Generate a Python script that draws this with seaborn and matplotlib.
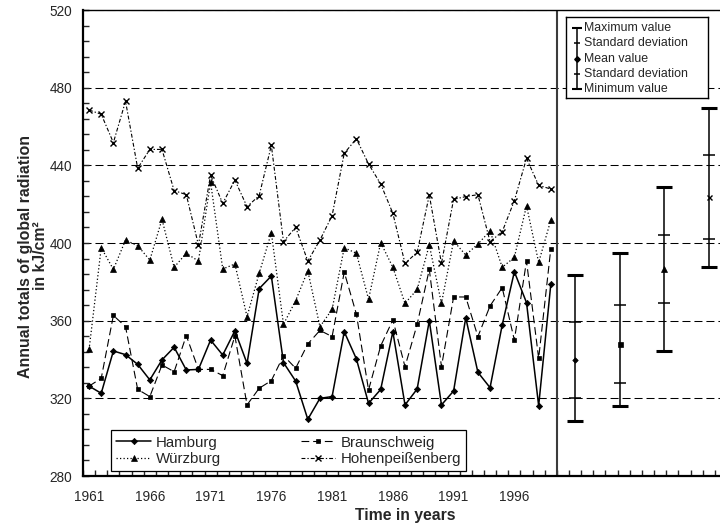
import numpy as np
import pandas as pd
import matplotlib
matplotlib.use("Agg")
import matplotlib.pyplot as plt
from matplotlib.ticker import MultipleLocator
import seaborn as sns

# Annual totals of global radiation (kJ/cm²), 1961-1999
years = list(range(1961, 2000))
hamburg = [326.3, 322.6, 344.4, 342.5, 337.5, 329.5, 339.8, 346.3, 334.6, 334.9,
           350.0, 342.3, 354.8, 338.0, 376.5, 383.0, 338.4, 328.9, 309.2, 320.0,
           320.9, 354.3, 340.3, 317.4, 324.6, 354.3, 316.6, 324.8, 360.0, 316.6,
           323.8, 361.5, 333.4, 325.5, 357.8, 385.2, 369.3, 316.2, 378.7]
braunschweig = [326.3, 330.3, 362.7, 356.9, 324.6, 320.9, 337.2, 333.7, 352.3, 334.9,
                334.9, 331.7, 352.1, 316.6, 325.2, 329.1, 342.0, 335.5, 348.0, 355.0,
                351.8, 385.0, 363.4, 324.3, 347.0, 360.4, 336.3, 358.1, 386.4, 336.3,
                372.2, 372.2, 351.8, 367.6, 377.0, 350.0, 390.7, 340.6, 397.1]
wurzburg = [345.2, 397.6, 386.4, 401.5, 398.6, 391.2, 412.2, 387.5, 394.7, 390.7,
            431.3, 386.6, 389.2, 362.1, 384.4, 405.3, 358.1, 370.3, 385.7, 356.9,
            365.8, 397.6, 394.7, 371.0, 400.2, 387.5, 368.9, 376.1, 399.0, 368.9,
            401.0, 393.8, 399.5, 406.2, 387.5, 392.6, 419.2, 390.0, 411.8]
hohenpeissenberg = [468.5, 466.3, 451.7, 473.0, 438.5, 448.2, 448.2, 427.0, 424.9, 399.0,
                    435.0, 420.4, 432.4, 418.7, 424.4, 450.3, 400.7, 408.1, 390.7, 401.5,
                    414.1, 446.2, 453.7, 440.7, 430.4, 415.3, 389.5, 395.2, 424.7, 389.5,
                    422.5, 423.9, 424.9, 400.7, 405.8, 421.8, 443.6, 429.7, 427.8]

stations = ["Hamburg", "Braunschweig", "Würzburg", "Hohenpeißenberg"]
series = [hamburg, braunschweig, wurzburg, hohenpeissenberg]

# Summary statistics per station
stat_max = [383.3, 395.0, 428.7, 469.5]
stat_mean = [339.6, 348.0, 386.7, 423.6]
stat_sd = [19.6, 20.2, 17.6, 21.6]
stat_min = [308.3, 316.0, 344.4, 387.5]

x_ticklabels = [1961, 1966, 1971, 1976, 1981, 1986, 1991, 1996]

df = pd.DataFrame({
    "year": np.tile(years, len(stations)),
    "value": np.concatenate(series),
    "station": np.repeat(stations, len(years)),
})

sns.set_style("ticks")
plt.rcParams["font.family"] = ["Liberation Sans", "DejaVu Sans"]

line_styles = {
    "Hamburg": dict(marker="D", markersize=3.2, linestyle="-", linewidth=1.1),
    "Braunschweig": dict(marker="s", markersize=3.4, linestyle=(0, (7, 3.5)), linewidth=0.8),
    "Würzburg": dict(marker="^", markersize=4.3, linestyle=(0, (1, 1.8)), linewidth=0.9),
    "Hohenpeißenberg": dict(marker="x", markersize=4.2, linestyle=(0, (3.5, 1.8, 1.2, 1.8)),
                            linewidth=0.8, markeredgewidth=1.0),
}
mean_markers = {
    "Hamburg": dict(marker="D", markersize=2.8),
    "Braunschweig": dict(marker="s", markersize=3.6),
    "Würzburg": dict(marker="^", markersize=4.5),
    "Hohenpeißenberg": dict(marker="x", markersize=3.6, markeredgewidth=1.0),
}

fig = plt.figure(figsize=(7.2, 5.32), dpi=100)
ax = fig.add_axes([83 / 720, 56 / 532, 644 / 720, 466 / 532])

for name in stations:
    sub = df[df["station"] == name]
    kw = dict(line_styles[name])
    kw.setdefault("markeredgewidth", 0.5)
    sns.lineplot(data=sub, x="year", y="value", ax=ax, color="black",
                 markeredgecolor="black", markerfacecolor="black",
                 label=name, zorder=3, **kw)

# Separator between the time series and the statistics panel
ax.axvline(1999.5, color="#3c3c3c", linewidth=1.5, zorder=2)

# Min / max / standard deviation bars
bar_x = np.linspace(2001, 2012, 4)
sd_hi = np.array(stat_mean) + np.array(stat_sd)
sd_lo = np.array(stat_mean) - np.array(stat_sd)
ax.vlines(bar_x, stat_min, stat_max, color="black", linewidth=1.1, zorder=3)
ax.plot(bar_x, stat_max, "_", color="black", markersize=11.5, markeredgewidth=2.2, zorder=3)
ax.plot(bar_x, stat_min, "_", color="black", markersize=11.5, markeredgewidth=2.2, zorder=3)
ax.plot(bar_x, sd_hi, "_", color="black", markersize=8.6, markeredgewidth=1.1, zorder=3)
ax.plot(bar_x, sd_lo, "_", color="black", markersize=8.6, markeredgewidth=1.1, zorder=3)
for xi, m, name in zip(bar_x, stat_mean, stations):
    mk = dict(mean_markers[name])
    mk.setdefault("markeredgewidth", 0.5)
    ax.plot([xi], [m], linestyle="none", color="black", markeredgecolor="black", zorder=4, **mk)

# Axes, ticks, grid
ax.set_xlim(1960.5, 2013.5)
ax.set_ylim(280, 520)
ax.set_yticks(np.arange(280, 521, 40))
ax.yaxis.set_minor_locator(MultipleLocator(8))
ax.set_xticks(x_ticklabels)
ax.set_xticklabels([str(v) for v in x_ticklabels])
ax.set_xticks(np.arange(1960.5, 2013.6, 1), minor=True)
ax.tick_params(axis="y", which="both", direction="in", length=4, width=1, labelsize=9.8, pad=8)
ax.tick_params(axis="x", which="major", length=0, labelsize=9.8, pad=10)
ax.tick_params(axis="x", which="minor", direction="in", length=4, width=1)
ax.set_axisbelow(True)
ax.grid(axis="y", which="major", color="black", linewidth=0.75, linestyle=(0, (7.7, 3.8)))
ax.grid(axis="x", visible=False)

for side in ("left", "bottom"):
    ax.spines[side].set_linewidth(1.6)
    ax.spines[side].set_color("black")
ax.spines["top"].set_linewidth(1.0)
ax.spines["top"].set_color("black")
ax.spines["right"].set_visible(False)

ax.set_xlabel("Time in years", fontsize=11.3, fontweight="bold", labelpad=3)
ax.set_ylabel("Annual totals of global radiation\nin kJ/cm²", fontsize=11.4,
              fontweight="bold", linespacing=0.95)
ax.yaxis.set_label_coords(-0.0775, 0.472)
ax.yaxis.label.set_va("center")

# Station legend
handles, labels = ax.get_legend_handles_labels()
order = [labels.index(n) for n in ["Hamburg", "Würzburg", "Braunschweig", "Hohenpeißenberg"]]
leg = ax.legend([handles[i] for i in order], [labels[i] for i in order], ncol=2,
                loc="lower left", bbox_to_anchor=(111 / 720, 61 / 532),
                bbox_transform=fig.transFigure, borderaxespad=0, frameon=True,
                fancybox=False, edgecolor="black", framealpha=1, fontsize=10.8,
                handlelength=2.3, handletextpad=0.35, columnspacing=5.3,
                borderpad=0.35, labelspacing=0.15)
leg.get_frame().set_linewidth(0.9)

# Key for the statistics bars
kax = fig.add_axes([566 / 720, (532 - 98) / 532, 142 / 720, 81 / 532])
kax.set_xlim(0, 142)
kax.set_ylim(81, 0)
kax.set_xticks([])
kax.set_yticks([])
kax.set_facecolor("white")
for s in kax.spines.values():
    s.set_visible(True)
    s.set_linewidth(1.0)
    s.set_color("black")
key_rows = [11.3, 26.3, 42, 57, 72]
key_text = ["Maximum value", "Standard deviation", "Mean value", "Standard deviation", "Minimum value"]
sx = 10.7
kax.plot([sx, sx], [key_rows[0], key_rows[-1]], color="black", linewidth=1.1)
kax.plot([sx, sx], [key_rows[0], key_rows[-1]], "_", color="black", markersize=7.9, markeredgewidth=1.5)
kax.plot([sx, sx], [key_rows[1], key_rows[3]], "_", color="black", markersize=4.3, markeredgewidth=1.1)
kax.plot([sx], [key_rows[2]], "D", color="black", markersize=2.8)
for yy, t in zip(key_rows, key_text):
    kax.text(18.3, yy, t, fontsize=8.9, va="center", ha="left")

fig.savefig("out.png", dpi=100)
